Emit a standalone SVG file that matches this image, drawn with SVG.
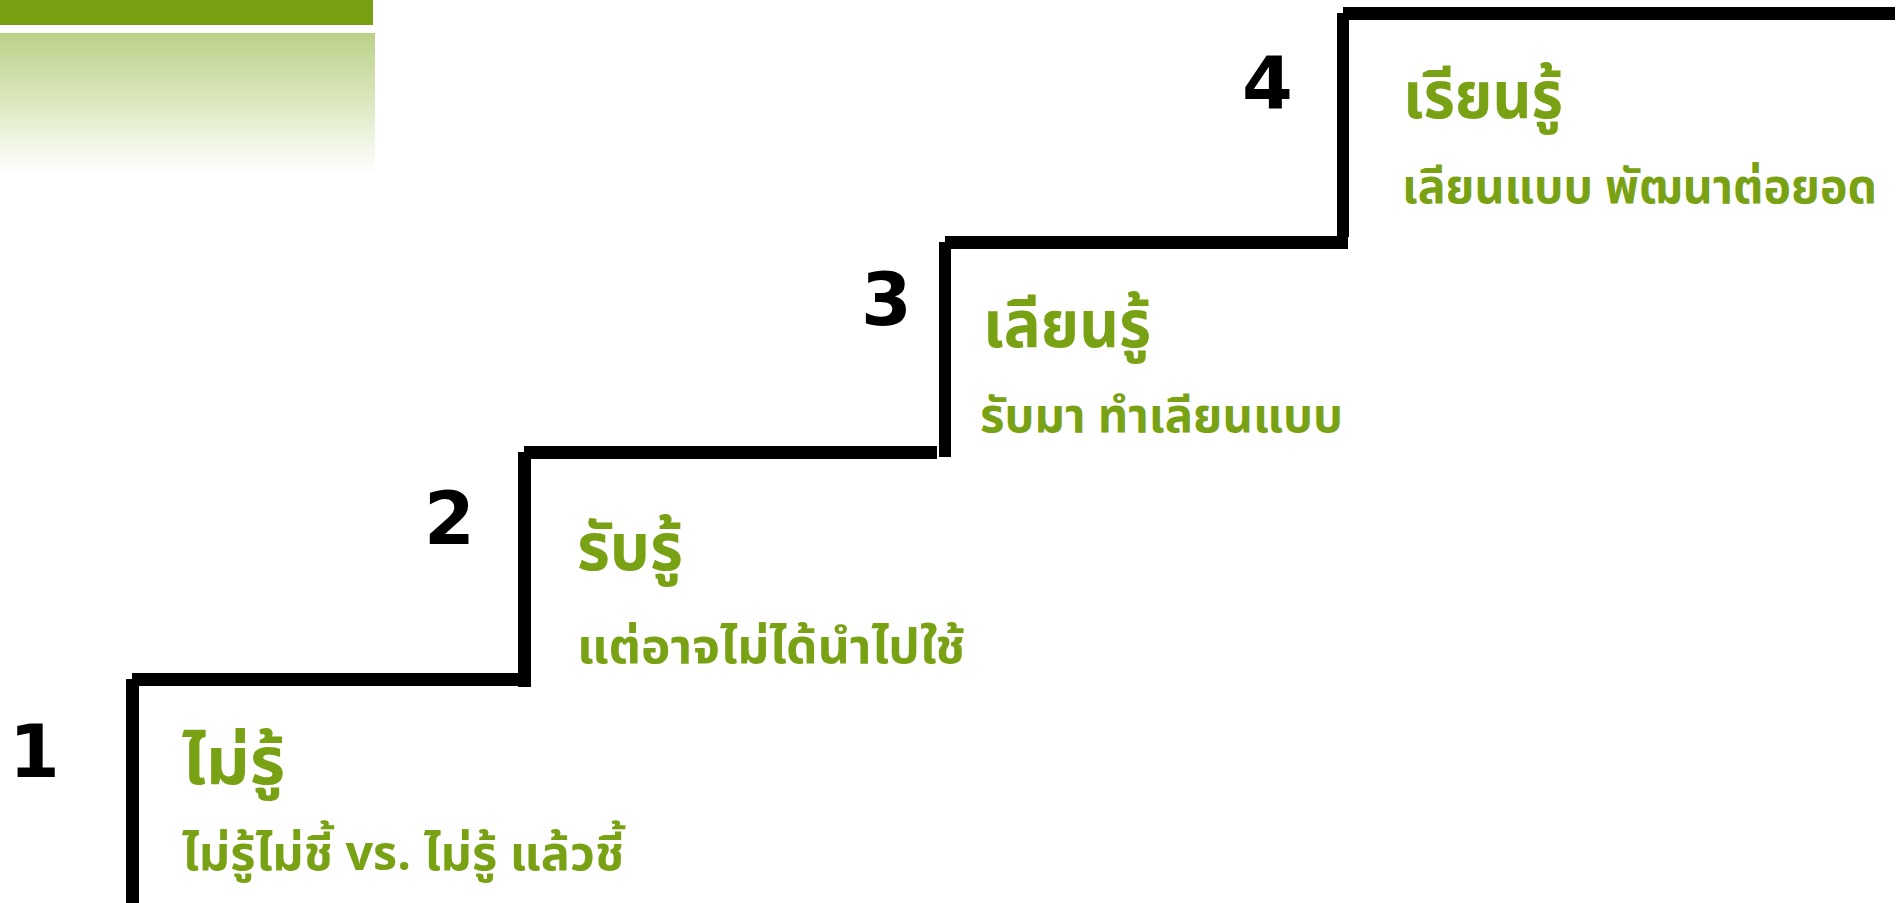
<svg xmlns="http://www.w3.org/2000/svg" width="1901" height="903" viewBox="0 0 1901 903">
<defs>
<linearGradient id="fade" x1="0" y1="0" x2="0" y2="1">
<stop offset="0" stop-color="#bcd189"/>
<stop offset="0.45" stop-color="#d9e6bb"/>
<stop offset="0.75" stop-color="#eef5e2"/>
<stop offset="1" stop-color="#ffffff"/>
</linearGradient>
<style>
.num{font-family:"DejaVu Sans",Verdana,sans-serif;font-weight:bold;font-size:73px;fill:#000}
.title{font-family:Tahoma,"Noto Sans Thai","Loma","Garuda","DejaVu Sans",sans-serif;font-weight:bold;font-size:66px;fill:#78a214}
.sub{font-family:Tahoma,"Noto Sans Thai","Loma","Garuda","DejaVu Sans",sans-serif;font-weight:bold;font-size:48px;fill:#78a214}
.stair{fill:#000}
</style>
</defs>
<rect x="0" y="0" width="1901" height="903" fill="#fff"/>
<g id="header">
<rect x="0" y="0" width="373" height="25" fill="#76a012"/>
<rect x="0" y="33" width="375" height="142" fill="url(#fade)"/>
</g>
<g id="connectors">
<rect class="stair" x="126" y="679" width="13" height="224"/>
<rect class="stair" x="132" y="673" width="399" height="13"/>
<rect class="stair" x="518" y="452" width="13" height="235"/>
<rect class="stair" x="524" y="446" width="413" height="13"/>
<rect class="stair" x="939" y="242" width="12" height="215"/>
<rect class="stair" x="945" y="236" width="403" height="13"/>
<rect class="stair" x="1337" y="13" width="12" height="224"/>
<rect class="stair" x="1343" y="7" width="552" height="13"/>
</g>
<g id="step1">
<text class="num" x="9" y="777">1</text>
<text class="title" x="182" y="784" textLength="103" lengthAdjust="spacingAndGlyphs">ไม่รู้</text>
<text class="sub" x="182" y="870" textLength="442" lengthAdjust="spacingAndGlyphs">ไม่รู้ไม่ชี้ vs. ไม่รู้ แล้วชี้</text>
</g>
<g id="step2">
<text class="num" x="424" y="544">2</text>
<text class="title" x="577" y="570" textLength="106" lengthAdjust="spacingAndGlyphs">รับรู้</text>
<text class="sub" x="577" y="663" textLength="388" lengthAdjust="spacingAndGlyphs">แต่อาจไม่ได้นำไปใช้</text>
</g>
<g id="step3">
<text class="num" x="861" y="325">3</text>
<text class="title" x="983" y="347" textLength="168" lengthAdjust="spacingAndGlyphs">เลียนรู้</text>
<text class="sub" x="980" y="432" textLength="363" lengthAdjust="spacingAndGlyphs">รับมา ทำเลียนแบบ</text>
</g>
<g id="step4">
<text class="num" x="1242" y="109">4</text>
<text class="title" x="1403" y="118" textLength="160" lengthAdjust="spacingAndGlyphs">เรียนรู้</text>
<text class="sub" x="1402" y="203" textLength="475" lengthAdjust="spacingAndGlyphs">เลียนแบบ พัฒนาต่อยอด</text>
</g>
</svg>
